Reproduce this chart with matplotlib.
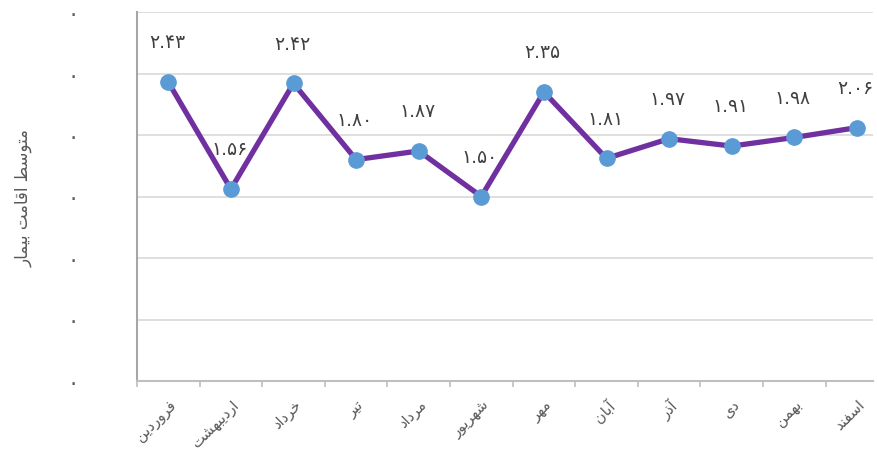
import matplotlib
matplotlib.use("Agg")
import matplotlib.pyplot as plt

# data
months = ["فروردین", "اردیبهشت", "خرداد", "تیر", "مرداد", "شهریور",
          "مهر", "آبان", "آذر", "دی", "بهمن", "اسفند"]
stay = [2.43, 1.56, 2.42, 1.80, 1.87, 1.50, 2.35, 1.81, 1.97, 1.91, 1.98, 2.06]
y_ticks = [0, 0.5, 1, 1.5, 2, 2.5, 3]
y_title = "متوسط اقامت بیمار"

# matplotlib does no arabic shaping -> choose joined forms by hand, then reverse
# (isolated, final, initial, medial); 2-tuples never join to the next letter
FORMS = {
    "ا": ("\uFE8D", "\uFE8E"),
    "آ": ("\uFE81", "\uFE82"),
    "د": ("\uFEA9", "\uFEAA"),
    "ذ": ("\uFEAB", "\uFEAC"),
    "ر": ("\uFEAD", "\uFEAE"),
    "و": ("\uFEED", "\uFEEE"),
    "ب": ("\uFE8F", "\uFE90", "\uFE91", "\uFE92"),
    "ت": ("\uFE95", "\uFE96", "\uFE97", "\uFE98"),
    "خ": ("\uFEA5", "\uFEA6", "\uFEA7", "\uFEA8"),
    "س": ("\uFEB1", "\uFEB2", "\uFEB3", "\uFEB4"),
    "ش": ("\uFEB5", "\uFEB6", "\uFEB7", "\uFEB8"),
    "ط": ("\uFEC1", "\uFEC2", "\uFEC3", "\uFEC4"),
    "ف": ("\uFED1", "\uFED2", "\uFED3", "\uFED4"),
    "ق": ("\uFED5", "\uFED6", "\uFED7", "\uFED8"),
    "م": ("\uFEE1", "\uFEE2", "\uFEE3", "\uFEE4"),
    "ن": ("\uFEE5", "\uFEE6", "\uFEE7", "\uFEE8"),
    "ه": ("\uFEE9", "\uFEEA", "\uFEEB", "\uFEEC"),
    "ی": ("\uFEEF", "\uFEF0", "\uFEF3", "\uFEF4"),
}


def shape(word):
    out = []
    for i, ch in enumerate(word):
        f = FORMS.get(ch)
        if f is None:
            out.append(ch)
            continue
        prev = word[i - 1] if i > 0 else ""
        nxt = word[i + 1] if i + 1 < len(word) else ""
        join_prev = prev in FORMS and len(FORMS[prev]) == 4
        join_next = len(f) == 4 and nxt in FORMS
        if join_prev and join_next:
            out.append(f[3])
        elif join_prev:
            out.append(f[1])
        elif join_next:
            out.append(f[2])
        else:
            out.append(f[0])
    return "".join(out)[::-1]


fa_digits = str.maketrans("0123456789", "۰۱۲۳۴۵۶۷۸۹")

plt.rcParams['font.family'] = ['DejaVu Sans']
txt = "#595959"

fig = plt.figure(figsize=(8.77, 4.52), dpi=100)
ax = fig.add_axes([137 / 877, 1 - 382 / 452, 736 / 877, 369 / 452])

x = list(range(len(months)))
ax.plot(x, stay, color="#7030A0", lw=3.8, marker="o", ms=11,
        mfc="#5B9BD5", mec="#5B9BD5", zorder=3, clip_on=False)

for xi, v in zip(x, stay):
    ax.annotate(f"{v:.2f}".translate(fa_digits), (xi, v), xytext=(-1, 29),
                textcoords="offset points", ha="center", va="center",
                fontsize=13.5, color="#404040")

ax.set_xlim(-0.5, -0.5 + 736 / 62.6)
ax.set_ylim(0, 3)
ax.set_yticks(y_ticks)
ax.set_yticklabels(["۰"] * len(y_ticks), color=txt, fontsize=15)
ax.tick_params(axis="y", length=0, pad=42)
ax.grid(axis="y", color="#D9D9D9", lw=1.2)
ax.set_axisbelow(True)

ax.set_xticks(x)
ax.set_xticklabels([shape(m) for m in months], rotation=45, ha="right",
                   va="top", rotation_mode="anchor", fontsize=10.5, color=txt)
ax.tick_params(axis="x", length=0, pad=11)
ax.set_xticks([i - 0.5 for i in range(len(months))], minor=True)
ax.tick_params(axis="x", which="minor", length=4, width=1.2, color="#BFBFBF")

for s in ["top", "right"]:
    ax.spines[s].set_visible(False)
ax.spines["left"].set_color("#A6A6A6")
ax.spines["left"].set_linewidth(1.5)
ax.spines["bottom"].set_color("#BFBFBF")
ax.spines["bottom"].set_linewidth(1.5)

fig.text(24 / 877, 1 - 198 / 452, shape(y_title), rotation=90,
         ha="center", va="center", fontsize=12, color=txt)

fig.savefig("out.png", dpi=100)
